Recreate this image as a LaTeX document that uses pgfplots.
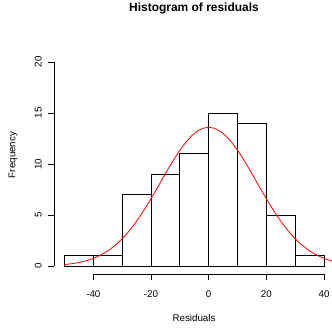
\documentclass[border=0pt]{standalone}
\usepackage{fontspec}
\setmainfont{Liberation Sans}
\usepackage{pgfplots}
\pgfplotsset{compat=1.18}
\begin{document}
\begin{tikzpicture}[x=1bp,y=1bp]
\path[use as bounding box] (0,0) rectangle (332,331);
\begin{axis}[
  at={(54.1bp,56.8bp)}, anchor=south west,
  width=280.3bp, height=220.4bp, scale only axis,
  xmin=-53.6, xmax=43.6, ymin=-0.8, ymax=20.8,
  axis line style={draw=none},
  xtick={-40,-20,0,20,40}, ytick={0,5,10,15,20},
  xtick pos=bottom, ytick pos=left,
  tick align=outside, major tick length=5.7bp,
  tick style={black, line width=0.8bp},
  /pgf/number format/assume math mode=true,
  tick label style={font=\fontsize{9.8}{11}\selectfont},
  yticklabel style={rotate=90, anchor=south, inner sep=0pt, yshift=6.5bp},
  xticklabel style={anchor=north, inner sep=0pt, yshift=-11bp},
  clip=true,
]
\addplot[ybar interval, draw=black, fill=white, line width=0.8bp] coordinates {
(-50,1) (-40,1) (-30,7) (-20,9) (-10,11) (0,15) (10,14) (20,5) (30,1) (40,1)};
\addplot[red, line width=0.8bp] coordinates {
(-50,0.148) (-48,0.211) (-46,0.296) (-44,0.411) (-42,0.560) (-40,0.754)
(-38,0.999) (-36,1.306) (-34,1.682) (-32,2.137) (-30,2.672) (-28,3.297)
(-26,4.007) (-24,4.801) (-22,5.669) (-20,6.599) (-18,7.571) (-16,8.561)
(-14,9.542) (-12,10.48) (-10,11.35) (-8,12.11) (-6,12.74) (-4,13.21)
(-2,13.50) (0,13.60) (2,13.50) (4,13.21) (6,12.74) (8,12.11) (10,11.35)
(12,10.48) (14,9.542) (16,8.561) (18,7.571) (20,6.599) (22,5.669)
(24,4.801) (26,4.007) (28,3.297) (30,2.672) (32,2.137) (34,1.682)
(36,1.306) (38,0.999) (40,0.754) (42,0.560) (43,0.481)};
\draw[line width=0.8bp] (axis cs:-40,-0.8) -- (axis cs:40,-0.8);
\draw[line width=0.8bp] (axis cs:-53.6,0) -- (axis cs:-53.6,20);
\end{axis}
\node[font=\fontsize{12}{14}\selectfont\bfseries] at (194,322.5) {Histogram of residuals};
\node[font=\fontsize{9.8}{11}\selectfont, rotate=90] at (13,176) {Frequency};
\node[font=\fontsize{9.8}{11}\selectfont] at (194,13) {Residuals};
\end{tikzpicture}
\end{document}
